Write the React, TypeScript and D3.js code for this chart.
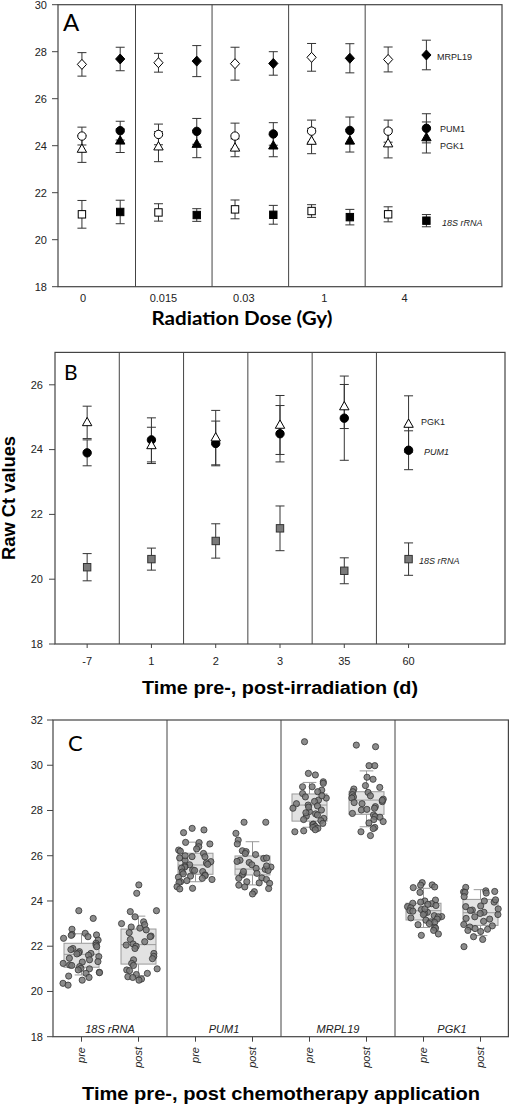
import React from "react";
import * as d3 from "d3";

// ---------- Panel A data ----------
const doseLabels = ["0", "0.015", "0.03", "1", "4"];
const mrplPre = [27.46, 27.53, 27.49, 27.76, 27.67];
const mrplPreErr = [0.5, 0.4, 0.7, 0.59, 0.53];
const mrplPost = [27.69, 27.6, 27.5, 27.72, 27.86];
const mrplPostErr = [0.5, 0.66, 0.5, 0.62, 0.63];
const pumPre = [24.41, 24.48, 24.41, 24.62, 24.62];
const pumPreErr = [0.38, 0.44, 0.55, 0.47, 0.47];
const pumPost = [24.64, 24.61, 24.5, 24.65, 24.74];
const pumPostErr = [0.4, 0.55, 0.48, 0.57, 0.62];
const pgkPre = [23.86, 23.96, 23.91, 24.2, 24.09];
const pgkPreErr = [0.57, 0.64, 0.38, 0.54, 0.61];
const pgkPost = [24.21, 24.07, 24.0, 24.21, 24.35];
const pgkPostErr = [0.5, 0.58, 0.47, 0.48, 0.66];
const rrnaPre = [21.08, 21.16, 21.29, 21.22, 21.08];
const rrnaPreErr = [0.59, 0.37, 0.4, 0.27, 0.32];
const rrnaPost = [21.18, 21.05, 21.06, 20.96, 20.81];
const rrnaPostErr = [0.5, 0.27, 0.4, 0.33, 0.26];
const yTicksA = [18, 20, 22, 24, 26, 28, 30];

// ---------- Panel B data ----------
const dayLabels = ["-7", "1", "2", "3", "35", "60"];
const pgkB = [24.84, 24.13, 24.37, 24.76, 25.33, 24.79];
const pgkBErr = [0.5, 0.56, 0.84, 0.91, 0.68, 0.87];
const pumB = [23.9, 24.3, 24.19, 24.49, 24.97, 23.98];
const pumBErr = [0.4, 0.68, 0.69, 0.87, 1.3, 0.6];
const rrnaB = [20.37, 20.62, 21.18, 21.57, 20.26, 20.62];
const rrnaBErr = [0.42, 0.34, 0.53, 0.69, 0.4, 0.5];
const yTicksB = [18, 20, 22, 24, 26];

// ---------- Panel C data ----------
const genesC = ["18S rRNA", "PUM1", "MRPL19", "PGK1"];
const timesC = ["pre", "post"];
// box stats: [lower whisker, q1, median, q3, upper whisker]
const boxStats = [
  [20.73, 21.07, 21.64, 22.13, 22.55],
  [20.7, 21.21, 22.07, 22.76, 23.33],
  [24.85, 25.18, 25.59, 26.11, 26.6],
  [24.71, 25.15, 25.41, 25.99, 26.62],
  [27.26, 27.53, 28.24, 28.73, 29.24],
  [27.28, 27.83, 28.46, 28.83, 29.75],
  [22.83, 23.16, 23.57, 23.9, 24.56],
  [22.47, 22.92, 23.48, 24.07, 24.5],
];
const rrnaPrePts = [23.57, 23.23, 22.75, 22.57, 22.52, 22.48, 22.5, 22.42, 22.35, 22.27, 22.13, 22.05, 21.98, 21.9, 21.85, 21.76, 21.7, 21.68, 21.66, 21.6, 21.54, 21.47, 21.4, 21.32, 21.3, 21.24, 21.17, 21.15, 21.1, 21.02, 21.0, 20.95, 20.85, 20.83, 20.8, 20.68, 20.62, 20.5, 20.36, 20.28];
const rrnaPostPts = [24.71, 24.34, 23.57, 23.53, 23.3, 23.08, 23.0, 22.95, 22.85, 22.72, 22.6, 22.45, 22.42, 22.3, 22.2, 22.1, 22.0, 22.05, 21.9, 21.68, 21.55, 21.45, 21.4, 21.24, 21.15, 21.0, 20.95, 20.92, 20.8, 20.75, 20.65, 20.55, 20.5, 20.62, 22.8];
const pumPrePts = [27.21, 27.14, 27.02, 26.59, 26.58, 26.52, 26.4, 26.3, 26.25, 26.2, 26.1, 25.96, 25.9, 25.95, 25.8, 25.74, 25.68, 25.6, 25.55, 25.5, 25.45, 25.37, 25.3, 25.28, 25.2, 25.15, 25.1, 25.12, 25.0, 25.05, 24.95, 24.85, 24.82, 24.63, 24.53, 24.56, 24.9, 25.35, 25.62, 26.0];
const pumPostPts = [27.48, 27.48, 26.99, 26.69, 26.52, 26.22, 26.18, 26.1, 26.05, 25.88, 25.8, 25.75, 25.7, 25.6, 25.44, 25.4, 25.5, 25.35, 25.22, 25.2, 25.15, 25.0, 25.02, 24.95, 24.85, 24.8, 24.78, 24.7, 24.62, 24.55, 24.41, 24.31, 25.3, 25.55, 25.9];
const mrplPrePts = [31.04, 29.64, 29.57, 29.27, 29.2, 29.05, 29.05, 28.9, 28.83, 28.75, 28.6, 28.55, 28.46, 28.4, 28.3, 28.24, 28.2, 28.1, 28.02, 27.95, 27.85, 27.8, 27.75, 27.65, 27.55, 27.43, 27.4, 27.38, 27.3, 27.25, 27.21, 27.15, 27.06, 27.1, 28.65, 27.9, 28.15, 27.6];
const mrplPostPts = [30.89, 30.82, 29.98, 29.98, 29.47, 29.38, 29.1, 29.02, 28.95, 28.83, 28.8, 28.7, 28.6, 28.55, 28.5, 28.39, 28.35, 28.3, 28.17, 28.1, 28.02, 28.05, 27.87, 27.8, 27.73, 27.7, 27.6, 27.51, 27.45, 27.25, 27.2, 27.06, 26.89, 28.45, 28.65];
const pgkPrePts = [24.81, 24.71, 24.7, 24.62, 24.59, 24.38, 24.04, 24.0, 23.95, 23.9, 23.88, 23.8, 23.75, 23.7, 23.62, 23.57, 23.55, 23.5, 23.45, 23.4, 23.35, 23.31, 23.3, 23.2, 23.15, 23.08, 23.05, 23.0, 22.95, 22.83, 22.8, 22.7, 22.54, 22.48, 23.65, 23.85, 23.25];
const pgkPostPts = [24.6, 24.45, 24.42, 24.4, 24.38, 24.35, 24.19, 24.0, 23.95, 23.78, 23.75, 23.6, 23.58, 23.5, 23.45, 23.4, 23.3, 23.23, 23.2, 23.1, 22.96, 22.9, 22.85, 22.75, 22.7, 22.78, 22.65, 22.42, 22.3, 21.98, 23.65, 24.05];
const pointsC = [rrnaPrePts, rrnaPostPts, pumPrePts, pumPostPts, mrplPrePts, mrplPostPts, pgkPrePts, pgkPostPts];
const yTicksC = [18, 20, 22, 24, 26, 28, 30, 32];

const AX = "#444";
const TXT = "#222";
const ARIAL = "'Liberation Sans', Arial, Helvetica, sans-serif";
const CAL = "Lato, 'Open Sans', sans-serif";

type Shape = "diamond" | "circle" | "triangle" | "square";

function Marker({ shape, x, y, fill, stroke = "#000" }: { shape: Shape; x: number; y: number; fill: string; stroke?: string }) {
  if (shape === "circle") return <circle cx={x} cy={y} r={4.2} fill={fill} stroke={stroke} strokeWidth={1} />;
  if (shape === "square") return <rect x={x - 3.7} y={y - 3.7} width={7.4} height={7.4} fill={fill} stroke={stroke} strokeWidth={1} />;
  if (shape === "diamond") {
    const p = d3.path();
    p.moveTo(x, y - 5);
    p.lineTo(x + 4.6, y);
    p.lineTo(x, y + 5);
    p.lineTo(x - 4.6, y);
    p.closePath();
    return <path d={p.toString()} fill={fill} stroke={stroke} strokeWidth={1} />;
  }
  const p = d3.path();
  p.moveTo(x, y - 5);
  p.lineTo(x + 4.7, y + 3.3);
  p.lineTo(x - 4.7, y + 3.3);
  p.closePath();
  return <path d={p.toString()} fill={fill} stroke={stroke} strokeWidth={1} />;
}

function ErrBar({ x, y, v, e }: { x: number; y: d3.ScaleLinear<number, number>; v: number; e: number }) {
  const y1 = y(v + e), y2 = y(v - e);
  return (
    <g stroke="#333" strokeWidth={1}>
      <line x1={x} x2={x} y1={y1} y2={y2} />
      <line x1={x - 4.5} x2={x + 4.5} y1={y1} y2={y1} />
      <line x1={x - 4.5} x2={x + 4.5} y1={y2} y2={y2} />
    </g>
  );
}

function YAxis({ y, ticks, x0, tickLen, labelX }: { y: d3.ScaleLinear<number, number>; ticks: number[]; x0: number; tickLen: number; labelX: number }) {
  return (
    <g>
      {ticks.map((t) => (
        <g key={t}>
          <line x1={x0 - tickLen} x2={x0} y1={y(t)} y2={y(t)} stroke={AX} strokeWidth={1} />
          <text x={labelX} y={y(t)} dy="0.35em" textAnchor="end" fontFamily={ARIAL} fontSize={11} fill={TXT}>
            {t}
          </text>
        </g>
      ))}
    </g>
  );
}

function PanelA() {
  const x = d3.scaleLinear().domain([-0.625, 10.975]).range([58, 502]);
  const y = d3.scaleLinear().domain([18, 30]).range([286.7, 4.7]);
  const series: { v: number[]; e: number[]; shape: Shape; post: boolean }[] = [
    { v: mrplPre, e: mrplPreErr, shape: "diamond", post: false },
    { v: mrplPost, e: mrplPostErr, shape: "diamond", post: true },
    { v: rrnaPre, e: rrnaPreErr, shape: "square", post: false },
    { v: rrnaPost, e: rrnaPostErr, shape: "square", post: true },
    { v: pgkPre, e: pgkPreErr, shape: "triangle", post: false },
    { v: pgkPost, e: pgkPostErr, shape: "triangle", post: true },
    { v: pumPre, e: pumPreErr, shape: "circle", post: false },
    { v: pumPost, e: pumPostErr, shape: "circle", post: true },
  ];
  const [x0, x1] = x.range();
  const [yb, yt] = y.range();
  return (
    <g>
      <YAxis y={y} ticks={yTicksA} x0={x0} tickLen={6} labelX={47} />
      {series.map((s, si) =>
        s.v.map((v, g) => <ErrBar key={`e${si}-${g}`} x={x(2 * g + (s.post ? 1 : 0))} y={y} v={v} e={s.e[g]} />)
      )}
      {series.map((s, si) =>
        s.v.map((v, g) => (
          <Marker key={`m${si}-${g}`} shape={s.shape} x={x(2 * g + (s.post ? 1 : 0))} y={y(v)} fill={s.post ? "#000" : "#fff"} />
        ))
      )}
      {doseLabels.slice(0, 4).map((_, g) => (
        <line key={g} x1={x(2 * g + 1.4)} x2={x(2 * g + 1.4)} y1={yt} y2={yb} stroke={AX} strokeWidth={1} />
      ))}
      <rect x={x0} y={yt} width={x1 - x0} height={yb - yt} fill="none" stroke={AX} strokeWidth={1.2} />
      {doseLabels.map((d, g) => (
        <text key={d} x={x(2.1 * g + 0.03)} y={302} textAnchor="middle" fontFamily={ARIAL} fontSize={11} fill={TXT}>
          {d}
        </text>
      ))}
      <text x={437} y={60} fontFamily={ARIAL} fontSize={9} fill={TXT}>MRPL19</text>
      <text x={440} y={132} fontFamily={ARIAL} fontSize={9} fill={TXT}>PUM1</text>
      <text x={440} y={149} fontFamily={ARIAL} fontSize={9} fill={TXT}>PGK1</text>
      <text x={442} y={226} fontFamily={ARIAL} fontSize={9} fontStyle="italic" fill={TXT}>18S rRNA</text>
      <text x={63} y={31} fontFamily={CAL} fontSize={24} fill="#000">A</text>
      <text x={242} y={325} textAnchor="middle" fontFamily={CAL} fontWeight={700} fontSize={18} textLength={181} lengthAdjust="spacingAndGlyphs" fill="#000">
        Radiation Dose (Gy)
      </text>
    </g>
  );
}

function PanelB() {
  const x = d3.scaleLinear().domain([-0.5, 6.5]).range([55, 505]);
  const y = d3.scaleLinear().domain([18, 27]).range([644, 352.4]);
  const series: { v: number[]; e: number[]; shape: Shape; fill: string; stroke: string }[] = [
    { v: rrnaB, e: rrnaBErr, shape: "square", fill: "#7a7a7a", stroke: "#333" },
    { v: pumB, e: pumBErr, shape: "circle", fill: "#000", stroke: "#000" },
    { v: pgkB, e: pgkBErr, shape: "triangle", fill: "#fff", stroke: "#000" },
  ];
  const [x0, x1] = x.range();
  const [yb, yt] = y.range();
  return (
    <g>
      <YAxis y={y} ticks={yTicksB} x0={x0} tickLen={6} labelX={43} />
      {series.map((s, si) => s.v.map((v, g) => <ErrBar key={`e${si}-${g}`} x={x(g)} y={y} v={v} e={s.e[g]} />))}
      {series.map((s, si) =>
        s.v.map((v, g) => <Marker key={`m${si}-${g}`} shape={s.shape} x={x(g)} y={y(v)} fill={s.fill} stroke={s.stroke} />)
      )}
      {dayLabels.slice(0, 5).map((_, g) => (
        <line key={g} x1={x(g + 0.5)} x2={x(g + 0.5)} y1={yt} y2={yb} stroke={AX} strokeWidth={1} />
      ))}
      <rect x={x0} y={yt} width={x1 - x0} height={yb - yt} fill="none" stroke={AX} strokeWidth={1.2} />
      {dayLabels.map((d, g) => (
        <g key={d}>
          <line x1={x(g)} x2={x(g)} y1={yb} y2={yb + 4} stroke={AX} strokeWidth={1} />
          <text x={x(g)} y={665} textAnchor="middle" fontFamily={ARIAL} fontSize={11} fill={TXT}>
            {d}
          </text>
        </g>
      ))}
      <text x={421} y={425} fontFamily={ARIAL} fontSize={9} fill={TXT}>PGK1</text>
      <text x={424} y={455} fontFamily={ARIAL} fontSize={9} fontStyle="italic" fill={TXT}>PUM1</text>
      <text x={419} y={564} fontFamily={ARIAL} fontSize={9} fontStyle="italic" fill={TXT}>18S rRNA</text>
      <text x={64} y={380} fontFamily={CAL} fontSize={21} fill="#000">B</text>
      <text x={280} y={694} textAnchor="middle" fontFamily={ARIAL} fontWeight={700} fontSize={18} textLength={276} lengthAdjust="spacingAndGlyphs" fill="#000">
        Time pre-, post-irradiation (d)
      </text>
      <text transform="translate(15,498) rotate(-90)" textAnchor="middle" fontFamily={ARIAL} fontWeight={700} fontSize={18} textLength={124} lengthAdjust="spacingAndGlyphs" fill="#000">
        Raw Ct values
      </text>
    </g>
  );
}

function PanelC() {
  const x = d3.scaleLinear().domain([-0.5, 7.5]).range([53, 509]);
  const y = d3.scaleLinear().domain([18, 32]).range([1036.7, 720]);
  const [x0, x1] = x.range();
  const [yb, yt] = y.range();
  const unit = x(1) - x(0);
  const rng = d3.randomLcg(0.4217);
  const jitter = pointsC.map((pts) => pts.map(() => (rng() - 0.5) * 0.66 * unit));
  const slots = genesC.flatMap((g) => timesC.map((t) => `${g}-${t}`));
  return (
    <g>
      <YAxis y={y} ticks={yTicksC} x0={x0} tickLen={6} labelX={43} />
      {boxStats.map((b, i) => {
        const cx = x(i);
        const hw = 0.307 * unit;
        const cw = 0.12 * unit;
        return (
          <g key={`b${i}`} stroke="#9a9a9a" strokeWidth={1}>
            <line x1={cx} x2={cx} y1={y(b[0])} y2={y(b[1])} />
            <line x1={cx} x2={cx} y1={y(b[3])} y2={y(b[4])} />
            <line x1={cx - cw} x2={cx + cw} y1={y(b[0])} y2={y(b[0])} />
            <line x1={cx - cw} x2={cx + cw} y1={y(b[4])} y2={y(b[4])} />
            <rect x={cx - hw} y={y(b[3])} width={2 * hw} height={y(b[1]) - y(b[3])} fill="#e2e2e2" />
            <line x1={cx - hw} x2={cx + hw} y1={y(b[2])} y2={y(b[2])} />
          </g>
        );
      })}
      {pointsC.map((pts, i) =>
        pts.map((v, j) => (
          <circle key={`p${i}-${j}`} cx={x(i) + jitter[i][j]} cy={y(v)} r={3.1} fill="#787878" fillOpacity={0.85} stroke="#353535" strokeWidth={0.8} />
        ))
      )}
      {genesC.slice(0, 3).map((_, g) => (
        <line key={g} x1={x(2 * g + 1.5)} x2={x(2 * g + 1.5)} y1={yt} y2={yb} stroke={AX} strokeWidth={1} />
      ))}
      <rect x={x0} y={yt} width={x1 - x0 - 0.6} height={yb - yt} fill="none" stroke={AX} strokeWidth={1.2} />
      {genesC.map((g, gi) => (
        <text key={g} x={x(2 * gi + 0.5)} y={1033} textAnchor="middle" fontFamily={ARIAL} fontStyle="italic" fontSize={11} fill={TXT}>
          {g}
        </text>
      ))}
      {slots.map((s, i) => (
        <g key={s}>
          <line x1={x(i)} x2={x(i)} y1={yb} y2={yb + 5} stroke={AX} strokeWidth={1} />
          <text transform={`translate(${x(i)},${1047}) rotate(-90)`} textAnchor="end" dy="0.35em" fontFamily={ARIAL} fontStyle="italic" fontSize={11} fill={TXT}>
            {timesC[i % 2]}
          </text>
        </g>
      ))}
      <text x={68} y={751} fontFamily={CAL} fontSize={22} fill="#000">C</text>
      <text x={281} y={1100} textAnchor="middle" fontFamily={ARIAL} fontWeight={700} fontSize={18} textLength={398} lengthAdjust="spacingAndGlyphs" fill="#000">
        Time pre-, post chemotherapy application
      </text>
    </g>
  );
}

export default function App() {
  return (
    <svg width={510} height={1106} style={{ position: "absolute", left: 0, top: 0, background: "#fff" }}>
      <rect width={510} height={1106} fill="#fff" />
      <PanelA />
      <PanelB />
      <PanelC />
    </svg>
  );
}
